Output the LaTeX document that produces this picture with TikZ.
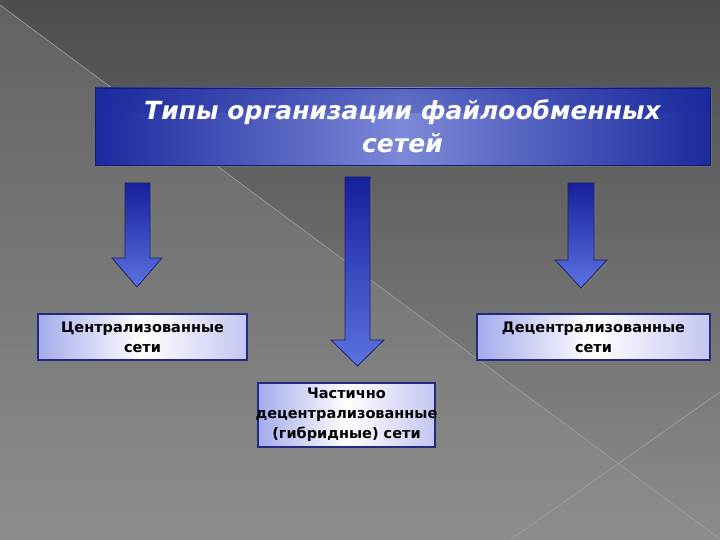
\documentclass[tikz,border=0pt]{standalone}
\usepackage{fontspec}
\setmainfont{DejaVu Sans}
\usetikzlibrary{shadows,fadings}
\definecolor{bgtop}{HTML}{4D4D4D}
\definecolor{bgbot}{HTML}{8C8C8C}
\definecolor{tritop}{HTML}{626262}
\definecolor{tribot}{HTML}{8D8D8D}
\definecolor{bgline}{HTML}{A2A2A2}
\definecolor{titledark}{HTML}{1B2A9E}
\definecolor{titlelight}{HTML}{7C89D8}
\definecolor{titleedge}{HTML}{141C70}
\definecolor{arrowtop}{HTML}{16209A}
\definecolor{arrowbot}{HTML}{5B72E2}
\definecolor{arrowedge}{HTML}{1B2360}
\definecolor{boxedge}{HTML}{222A80}
\definecolor{boxleft}{HTML}{A4ABEC}
\definecolor{boxright}{HTML}{C4C6F2}
\begin{document}
\begin{tikzpicture}[x=1pt,y=-1pt,
  shadowed/.style={drop shadow={opacity=0.45, shadow xshift=1.5pt, shadow yshift=-2pt}},
  titlebox/.style={draw=titleedge, line width=0.8pt, left color=titledark, right color=titledark,
    middle color=titlelight, minimum width=615pt, minimum height=77pt, inner sep=0pt,
    shadowed, align=center, text=white, font=\fontsize{25}{33}\selectfont\bfseries\itshape,
    path picture={\fill[titledark, opacity=0.35, path fading=south]
      (path picture bounding box.north west) rectangle ([yshift=-25pt]path picture bounding box.north east);}},
  subbox/.style={draw=boxedge, line width=1.2pt, left color=boxleft, right color=boxright,
    middle color=white, inner sep=0pt, align=center, text=black,
    font=\fontsize{14.5}{20}\selectfont\bfseries, shadowed},
  blockarrow/.style={draw=arrowedge, line width=0.8pt, top color=arrowtop, bottom color=arrowbot, shadowed},
  bgstroke/.style={draw=bgline, line width=0.6pt}]
\useasboundingbox (0,0) rectangle (720,540);
% background
\shade[top color=bgtop, bottom color=bgbot] (0,0) rectangle (720,540);
\shade[top color=tritop, bottom color=tribot] (0,5) -- (720,540) -- (0,540) -- cycle;
\draw[bgstroke] (0,5) -- (720,539);
\draw[bgstroke] (510,540) -- (720,392);
% title
\node[titlebox] (title) at (402.5,126.5) {Типы организации файлообменных\\сетей};
% arrows
\path[blockarrow] (125,183) -- (150,183) -- (150,258) -- (162,258) -- (137,287) -- (112,258) -- (125,258) -- cycle;
\path[blockarrow] (345,177) -- (370,177) -- (370,340) -- (384,340) -- (357.5,366) -- (331,340) -- (345,340) -- cycle;
\path[blockarrow] (568,183) -- (594,183) -- (594,260) -- (607,260) -- (581,288) -- (555,260) -- (568,260) -- cycle;
% boxes
\node[subbox, minimum width=209pt, minimum height=46pt] (central) at (142.5,337) {Централизованные\\сети};
\node[subbox, minimum width=233pt, minimum height=46pt] (decentral) at (593.5,337) {Децентрализованные\\сети};
\node[subbox, minimum width=177pt, minimum height=64pt] (hybrid) at (346.5,415) {Частично\\\makebox[0pt]{децентрализованные}\\(гибридные) сети};
\end{tikzpicture}
\end{document}
